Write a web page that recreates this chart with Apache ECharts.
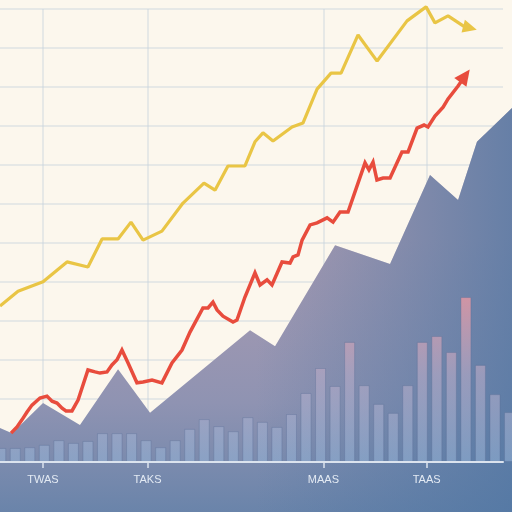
<!DOCTYPE html>
<html><head><meta charset="utf-8">
<script src="https://cdn.jsdelivr.net/npm/echarts@6/dist/echarts.min.js"></script>
<style>html,body{margin:0;padding:0;background:#fcf7ed}#c{width:512px;height:512px}</style>
</head><body><div id="c"></div>
<script>
// Bars: one per period index 0..35
const barValues = [3.6,3.6,3.8,4.4,5.6,4.9,5.4,7.4,7.4,7.4,5.6,3.8,5.6,8.5,11.0,9.2,7.9,11.5,10.3,9.0,12.3,17.7,24.1,19.5,30.8,19.7,14.9,12.6,19.7,30.8,32.3,28.2,42.3,24.9,17.4,12.8];

// Yellow line [period, value]
const yellowLine = [[-0.05,40.0],[1.19,43.8],[2.91,46.2],[4.56,51.3],[6.00,50.0],[6.97,57.2],[8.07,57.2],[8.96,61.5],[9.79,56.9],[11.09,59.2],[12.54,66.4],[13.98,71.5],[14.74,69.7],[15.63,75.9],[16.80,75.9],[17.49,82.1],[18.04,84.4],[18.73,82.3],[20.04,85.9],[20.79,86.9],[21.76,95.6],[22.72,99.7],[23.41,99.7],[24.58,109.5],[25.89,102.8],[27.95,113.1],[29.26,116.7],[29.87,112.6],[30.77,114.4],[31.94,111.5],[32.28,111.3]];

// Red line [period, value]
const redLine = [[0.71,7.4],[1.12,9.0],[1.46,10.8],[1.81,12.8],[2.15,14.6],[2.70,16.4],[3.18,16.9],[3.53,15.6],[3.87,15.1],[4.22,13.8],[4.49,13.1],[4.90,13.1],[5.32,15.9],[6.00,23.6],[6.49,23.1],[6.83,22.8],[7.31,23.1],[7.65,24.9],[8.00,26.2],[8.34,28.7],[8.76,25.4],[9.37,20.3],[9.79,20.5],[10.41,21.0],[11.09,20.3],[11.78,25.4],[12.47,28.7],[13.02,33.3],[13.91,39.5],[14.26,39.5],[14.60,41.0],[14.88,39.0],[15.29,37.4],[15.98,35.9],[16.25,36.4],[16.80,42.3],[17.49,48.5],[17.84,45.4],[18.32,46.7],[18.66,45.4],[19.35,51.3],[19.90,51.0],[20.11,52.6],[20.45,53.1],[20.73,56.9],[21.28,60.8],[21.76,61.3],[22.45,62.6],[22.86,61.5],[23.34,64.1],[23.89,64.1],[25.06,76.7],[25.33,74.9],[25.61,76.9],[25.88,72.3],[26.30,72.8],[26.78,72.8],[27.60,79.5],[28.02,79.5],[28.64,85.6],[29.12,86.4],[29.39,85.9],[29.87,88.7],[30.43,91.0],[30.77,93.1],[31.46,96.4],[31.94,99.0]];

// Mountain area outline [period, value]
const areaOutline = [[-0.05,8.7],[0.78,7.4],[2.91,15.1],[5.45,9.5],[8.07,23.8],[10.27,12.6],[17.15,33.8],[18.87,29.7],[23.00,55.6],[26.78,50.8],[29.53,73.6],[31.46,67.2],[32.76,82.1],[35.17,90.8]];

// Axis ticks
const tickPositions = [2.9, 10.1, 22.2, 29.3];
const tickLabels = ['TWAS', 'TAKS', 'MAAS', 'TAAS'];

function withArrow(points, rotate, size) {
  return points.map((p, i) => i === points.length - 1
    ? { value: p, symbol: 'triangle', symbolSize: size, symbolRotate: rotate }
    : p);
}

const gridLineStyle = { color: 'rgba(200,212,222,0.55)', width: 1.5 };

const chart = echarts.init(document.getElementById('c'), null, { renderer: 'canvas' });
chart.setOption({
  animation: false,
  backgroundColor: '#fcf7ed',
  grid: [
    { left: 0, right: 0, top: 0, bottom: 0 },
    { left: 0, right: 9, top: 9, bottom: 50 }
  ],
  xAxis: [
    { type: 'value', gridIndex: 0, min: -0.05, max: 35.17, show: false },
    { type: 'value', gridIndex: 1, position: 'top', min: -0.05, max: 34.55, z: 0,
      axisLine: { show: false }, axisLabel: { show: false },
      axisTick: { show: false, customValues: tickPositions },
      splitLine: { show: true, lineStyle: gridLineStyle } },
    { type: 'value', gridIndex: 1, position: 'bottom', min: -0.05, max: 34.55, z: 10,
      axisLine: { show: true, lineStyle: { color: '#dbe3ee', width: 2 } },
      axisTick: { show: true, length: 6, customValues: tickPositions, lineStyle: { color: '#dbe3ee', width: 1.5 } },
      axisLabel: { show: true, customValues: tickPositions, margin: 12, color: '#e3eaf3', fontSize: 11,
        fontFamily: 'Liberation Sans, sans-serif',
        formatter: function (v) {
          for (let i = 0; i < tickPositions.length; i++) if (Math.abs(tickPositions[i] - v) < 0.01) return tickLabels[i];
          return '';
        } },
      splitLine: { show: false }
    }
  ],
  yAxis: [
    { type: 'value', gridIndex: 0, min: -12.82, max: 118.46, show: false },
    { type: 'value', gridIndex: 1, inverse: true, min: 0, max: 116.15, interval: 10, z: 0,
      axisLine: { show: false }, axisTick: { show: false }, axisLabel: { show: false },
      splitLine: { show: true, lineStyle: gridLineStyle } }
  ],
  series: [
    { type: 'line', xAxisIndex: 0, yAxisIndex: 0, data: areaOutline, symbol: 'none', z: 1,
      lineStyle: { width: 0 },
      areaStyle: { origin: 'start', opacity: 1,
        color: { type: 'linear', global: true, x: 0, y: 240, x2: 0, y2: 512,
          colorStops: [{ offset: 0, color: '#ab9bb1' }, { offset: 0.6, color: '#8f93b2' }, { offset: 1, color: '#6a84aa' }] } } },
    { type: 'line', xAxisIndex: 0, yAxisIndex: 0, data: areaOutline, symbol: 'none', z: 1,
      lineStyle: { width: 0 }, silent: true,
      areaStyle: { origin: 'start', opacity: 1,
        color: { type: 'linear', global: true, x: 0, y: 0, x2: 512, y2: 0,
          colorStops: [{ offset: 0, color: 'rgba(79,118,163,0)' }, { offset: 0.5, color: 'rgba(79,118,163,0)' }, { offset: 1, color: 'rgba(79,118,163,0.75)' }] } } },
    { type: 'bar', xAxisIndex: 0, yAxisIndex: 0, z: 2, barWidth: 11,
      data: barValues.map((v, i) => [i, v]),
      itemStyle: {
        borderColor: 'rgba(90,110,150,0.35)', borderWidth: 1,
        color: { type: 'linear', global: true, x: 0, y: 290, x2: 0, y2: 462,
          colorStops: [{ offset: 0, color: 'rgba(232,150,160,0.85)' }, { offset: 0.5, color: 'rgba(185,172,200,0.6)' }, { offset: 1, color: 'rgba(150,180,215,0.55)' }] } } },
    { type: 'line', xAxisIndex: 0, yAxisIndex: 0, z: 3, symbol: 'none',
      data: withArrow(redLine, -36, [15, 16]),
      itemStyle: { color: '#e84c3d' },
      lineStyle: { color: '#e84c3d', width: 3.5, join: 'miter' } },
    { type: 'line', xAxisIndex: 0, yAxisIndex: 0, z: 3, symbol: 'none',
      data: withArrow(yellowLine, -105, [13, 14]),
      itemStyle: { color: '#e9c545' },
      lineStyle: { color: '#e9c545', width: 3.2 } }
  ]
});
</script>
</body></html>
